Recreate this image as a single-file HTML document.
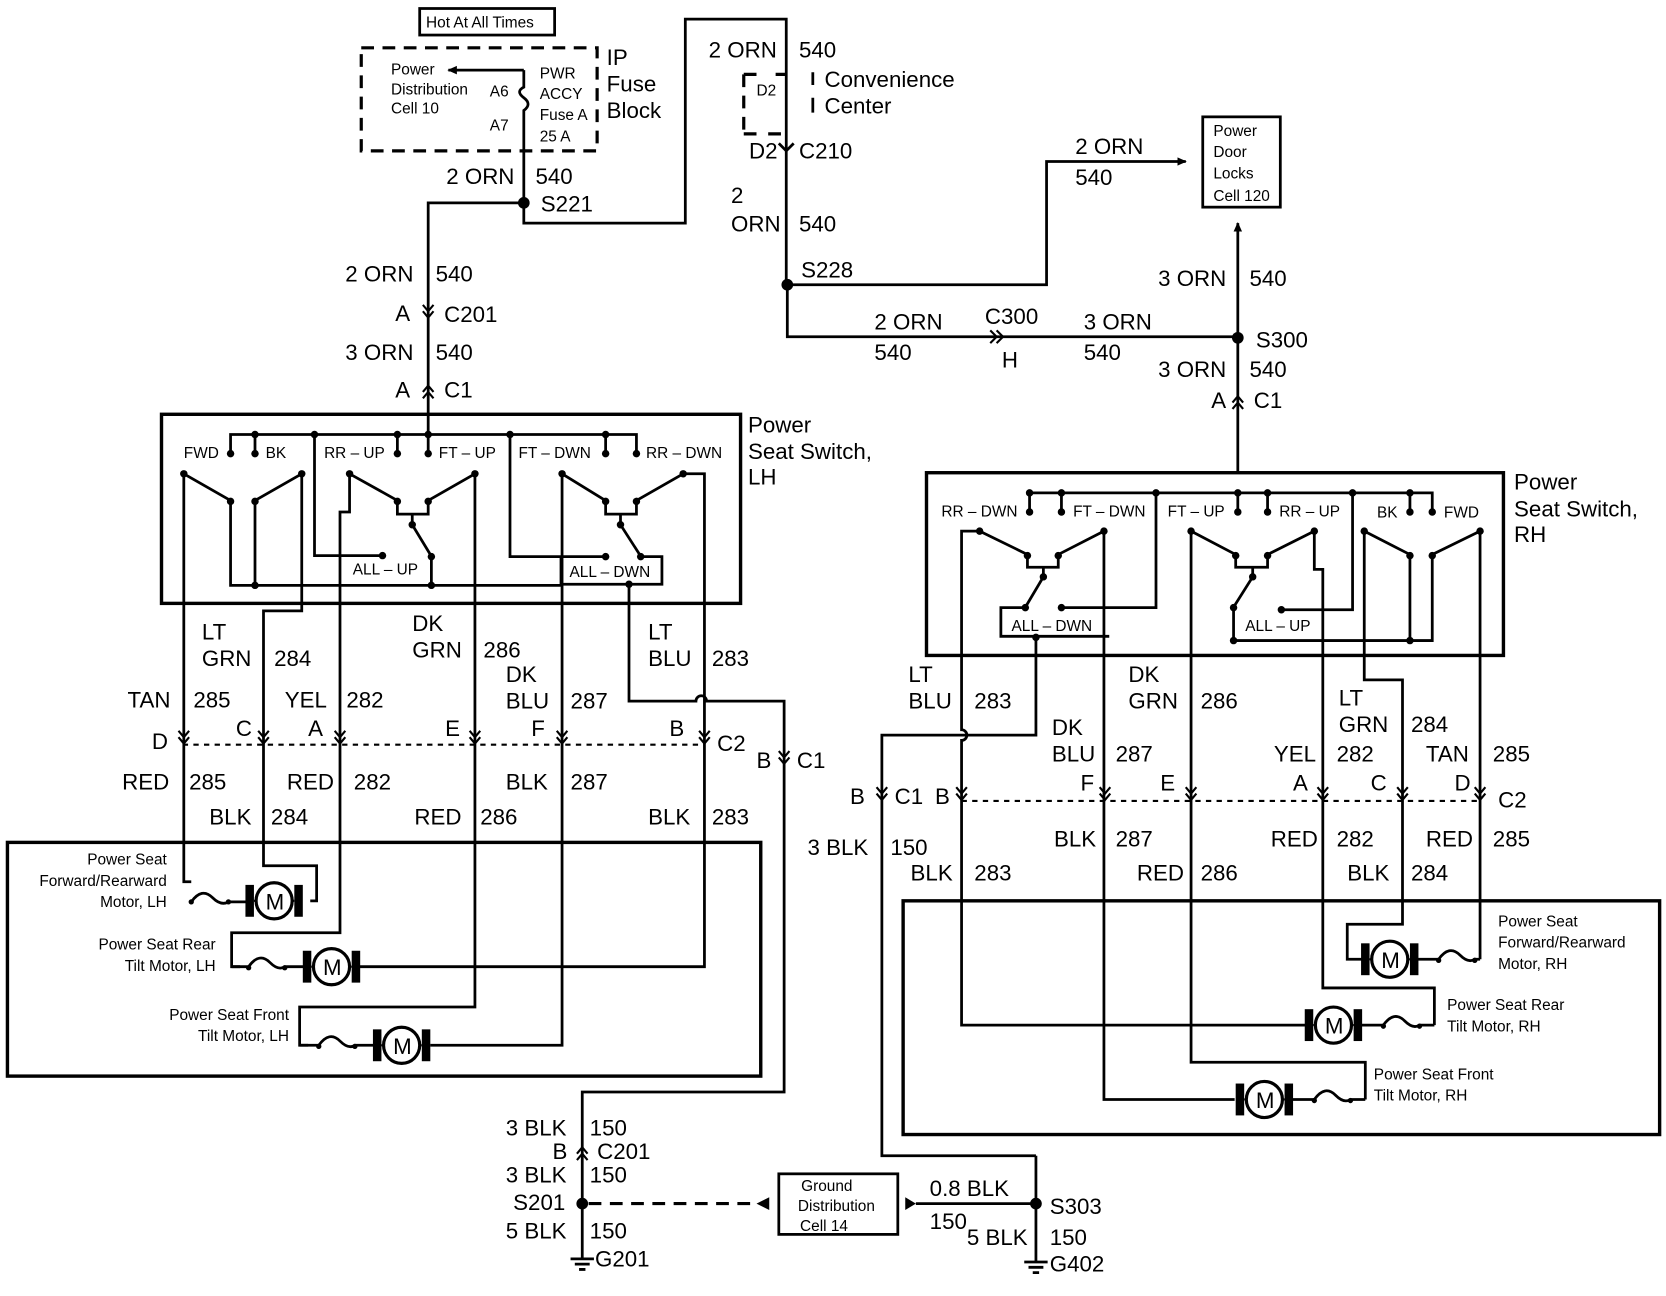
<!DOCTYPE html>
<html><head><meta charset="utf-8"><style>
html,body{margin:0;padding:0;background:#fff;}
svg{display:block;}
text{font-family:"Liberation Sans",Arial,sans-serif;fill:#000;}
.b{font-size:21px;}
.s{font-size:14.5px;}
.w{fill:none;stroke:#000;stroke-width:2.6;}
.bx{fill:none;stroke:#000;stroke-width:3.2;}
.d{fill:none;stroke:#000;stroke-width:2;stroke-dasharray:5 5;}
.ds{fill:none;stroke:#000;stroke-width:3;stroke-dasharray:12 8;}
</style></head><body>
<svg width="1666" height="1296" viewBox="0 0 1568 1220" preserveAspectRatio="none" xmlns="http://www.w3.org/2000/svg">
<defs>
<g id="mot"><rect x="-27" y="-15" width="8" height="30"/><rect x="19" y="-15" width="8" height="30"/><line x1="-19" y1="0" x2="19" y2="0" stroke="#000" stroke-width="2"/><circle r="17" fill="#fff" stroke="#000" stroke-width="3"/></g>
<g id="cd"><path d="M-5 -9 L0 -3 L5 -9 M-5 -3 L0 3 L5 -3" fill="none" stroke="#000" stroke-width="2"/></g>
<g id="cu"><path d="M-5 9 L0 3 L5 9 M-5 3 L0 -3 L5 3" fill="none" stroke="#000" stroke-width="2"/></g>
<marker id="ar" markerWidth="10" markerHeight="10" refX="8" refY="5" orient="auto" markerUnits="userSpaceOnUse"><path d="M0 1 L9 5 L0 9z"/></marker>
</defs>

<rect x="395" y="8" width="127" height="25" class="w" stroke-width="2"/>
<text x="401" y="26" class="s">Hot At All Times</text>
<rect x="340" y="45" width="222" height="97" class="ds"/>
<text x="368" y="70" class="s">Power</text><text x="368" y="89" class="s">Distribution</text><text x="368" y="107" class="s">Cell 10</text>
<text x="461" y="91" class="s">A6</text><text x="461" y="123" class="s">A7</text>
<line x1="493" y1="66" x2="422" y2="66" class="w" marker-end="url(#ar)"/>
<path d="M493 66 V82 q-8 4 0 10 q8 6 0 12 V190" class="w"/>
<text x="508" y="74" class="s">PWR</text><text x="508" y="93" class="s">ACCY</text><text x="508" y="113" class="s">Fuse A</text><text x="508" y="133" class="s">25 A</text>
<text x="571" y="61" class="b">IP</text><text x="571" y="86" class="b">Fuse</text><text x="571" y="111" class="b">Block</text>
<text x="420" y="173" class="b">2 ORN</text><text x="504" y="173" class="b">540</text>
<circle cx="493" cy="191" r="5.5"/><text x="509" y="199" class="b">S221</text>
<path d="M493 191 V210 H645 V18 H740 V268" class="w"/>
<path d="M493 191 H403 V408" class="w"/>
<text x="325" y="265" class="b">2 ORN</text><text x="410" y="265" class="b">540</text>
<text x="372" y="302" class="b">A</text><use href="#cd" x="403" y="296"/><text x="418" y="303" class="b">C201</text>
<text x="325" y="339" class="b">3 ORN</text><text x="410" y="339" class="b">540</text>
<text x="372" y="374" class="b">A</text><use href="#cu" x="403" y="366"/><text x="418" y="374" class="b">C1</text>

<path d="M700 70 H718 M730 70 H740 M700 70 V126 M700 126 H712 M723 126 H740" class="ds" stroke-width="2.6"/>
<path d="M765 68 V80 M765 92 V106" class="w"/>
<text x="712" y="90" class="s">D2</text>
<text x="667" y="54" class="b">2 ORN</text><text x="752" y="54" class="b">540</text>
<text x="776" y="82" class="b">Convenience</text><text x="776" y="107" class="b">Center</text>
<path d="M733 135 L740 142 L747 135" class="w" stroke-width="2"/>
<text x="705" y="149" class="b">D2</text><text x="752" y="149" class="b">C210</text>
<text x="688" y="191" class="b">2</text><text x="688" y="218" class="b">ORN</text><text x="752" y="218" class="b">540</text>
<circle cx="741" cy="268" r="5.5"/><text x="754" y="261" class="b">S228</text>
<path d="M741 268 H985 V152 H1116" class="w" marker-end="url(#ar)"/>
<text x="1012" y="145" class="b">2 ORN</text><text x="1012" y="174" class="b">540</text>
<rect x="1132" y="110" width="73" height="85" class="w"/>
<text x="1142" y="128" class="s">Power</text><text x="1142" y="148" class="s">Door</text><text x="1142" y="168" class="s">Locks</text><text x="1142" y="189" class="s">Cell 120</text>
<path d="M741 268 V317 H1165" class="w"/>
<text x="823" y="310" class="b">2 ORN</text><text x="823" y="339" class="b">540</text>
<text x="927" y="305" class="b">C300</text>
<path d="M932 311 L938 317 L932 323 M938 311 L944 317 L938 323" fill="none" stroke="#000" stroke-width="2"/>
<text x="943" y="346" class="b">H</text>
<text x="1020" y="310" class="b">3 ORN</text><text x="1020" y="339" class="b">540</text>
<circle cx="1165" cy="318" r="5.5"/><text x="1182" y="327" class="b">S300</text>
<path d="M1165 445 V210" class="w" marker-end="url(#ar)"/>
<text x="1090" y="269" class="b">3 ORN</text><text x="1176" y="269" class="b">540</text>
<text x="1090" y="355" class="b">3 ORN</text><text x="1176" y="355" class="b">540</text>
<text x="1140" y="384" class="b">A</text><use href="#cu" x="1165" y="376"/><text x="1180" y="384" class="b">C1</text>

<rect x="152" y="390" width="545" height="178" class="bx"/>
<text x="704" y="407" class="b">Power</text><text x="704" y="432" class="b">Seat Switch,</text><text x="704" y="456" class="b">LH</text>
<path d="M217 427 V409 H599 V427" class="w"/>
<path d="M240 409 V427 M374 409 V427 M403 409 V427 M570 409 V427" class="w"/>
<g>
<circle cx="240" cy="409" r="3.5"/><circle cx="296" cy="409" r="3.5"/><circle cx="374" cy="409" r="3.5"/><circle cx="403" cy="409" r="3.5"/><circle cx="480" cy="409" r="3.5"/><circle cx="570" cy="409" r="3.5"/>
<circle cx="217" cy="427" r="3.5"/><circle cx="240" cy="427" r="3.5"/><circle cx="374" cy="427" r="3.5"/><circle cx="403" cy="427" r="3.5"/><circle cx="570" cy="427" r="3.5"/><circle cx="599" cy="427" r="3.5"/>
</g>
<text x="173" y="431" class="s">FWD</text><text x="250" y="431" class="s">BK</text>
<text x="305" y="431" class="s">RR – UP</text><text x="413" y="431" class="s">FT – UP</text>
<text x="488" y="431" class="s">FT – DWN</text><text x="608" y="431" class="s">RR – DWN</text>
<g class="w">
<path d="M173 446 L215 470"/><path d="M284 446 L242 470"/>
<path d="M217 472 V551 H528"/><path d="M240 472 V551"/>
<path d="M173 446 V830 H180"/>
<path d="M284 446 V575 H248 V815 H298 V848 H292"/>
</g>
<circle cx="173" cy="446" r="3.5"/><circle cx="284" cy="446" r="3.5"/><circle cx="217" cy="472" r="3.5"/><circle cx="240" cy="472" r="3.5"/><circle cx="240" cy="551" r="3.5"/>
<g class="w">
<path d="M329 446 V482 H320 V878 H218 V910 H226"/>
<path d="M329 446 L372 470"/><path d="M447 446 L405 470"/>
<path d="M374 472 V484 H403 V472"/><path d="M388 484 V494 L405 522"/>
<path d="M406 524 V551"/>
<path d="M296 409 V523 H360"/>
<path d="M447 446 V948 H282 V984 H290"/>
</g>
<circle cx="329" cy="446" r="3.5"/><circle cx="447" cy="446" r="3.5"/><circle cx="374" cy="472" r="3.5"/><circle cx="403" cy="472" r="3.5"/><circle cx="388" cy="494" r="3.5"/><circle cx="406" cy="524" r="3.5"/><circle cx="406" cy="551" r="3.5"/><circle cx="360" cy="523" r="3.5"/>
<text x="332" y="541" class="s">ALL – UP</text>
<g class="w">
<path d="M529 446 L568 470"/><path d="M643 446 L601 470"/>
<path d="M570 472 V484 H599 V472"/><path d="M584 484 V494 L602 522"/>
<path d="M643 446 H663 V910 H338"/>
<path d="M480 409 V524 H570"/>
<path d="M603 524 H623 V550 H528 V524"/>
<path d="M529 446 V984 H405"/>
<path d="M592 550 V660 H655 a5 5 0 0 1 10 0 H738 V1028 H548 V1185"/>
</g>
<circle cx="529" cy="446" r="3.5"/><circle cx="643" cy="446" r="3.5"/><circle cx="570" cy="472" r="3.5"/><circle cx="599" cy="472" r="3.5"/><circle cx="584" cy="494" r="3.5"/><circle cx="603" cy="524" r="3.5"/><circle cx="570" cy="524" r="3.5"/><circle cx="592" cy="550" r="3.5"/>
<text x="536" y="543" class="s">ALL – DWN</text>

<text x="190" y="602" class="b">LT</text><text x="190" y="627" class="b">GRN</text><text x="258" y="627" class="b">284</text>
<text x="120" y="666" class="b">TAN</text><text x="182" y="666" class="b">285</text>
<text x="268" y="666" class="b">YEL</text><text x="326" y="666" class="b">282</text>
<text x="388" y="594" class="b">DK</text><text x="388" y="619" class="b">GRN</text><text x="455" y="619" class="b">286</text>
<text x="476" y="642" class="b">DK</text><text x="476" y="667" class="b">BLU</text><text x="537" y="667" class="b">287</text>
<text x="610" y="602" class="b">LT</text><text x="610" y="627" class="b">BLU</text><text x="670" y="627" class="b">283</text>
<line x1="172" y1="701" x2="663" y2="701" class="d"/>
<use href="#cd" x="173" y="697"/><use href="#cd" x="248" y="697"/><use href="#cd" x="320" y="697"/><use href="#cd" x="447" y="697"/><use href="#cd" x="529" y="697"/><use href="#cd" x="663" y="697"/>
<text x="143" y="705" class="b">D</text><text x="222" y="693" class="b">C</text><text x="290" y="693" class="b">A</text><text x="419" y="693" class="b">E</text><text x="500" y="693" class="b">F</text><text x="630" y="693" class="b">B</text><text x="675" y="707" class="b">C2</text>
<text x="712" y="723" class="b">B</text><use href="#cd" x="738" y="716"/><text x="750" y="723" class="b">C1</text>
<text x="115" y="743" class="b">RED</text><text x="178" y="743" class="b">285</text>
<text x="270" y="743" class="b">RED</text><text x="333" y="743" class="b">282</text>
<text x="476" y="743" class="b">BLK</text><text x="537" y="743" class="b">287</text>
<text x="197" y="776" class="b">BLK</text><text x="255" y="776" class="b">284</text>
<text x="390" y="776" class="b">RED</text><text x="452" y="776" class="b">286</text>
<text x="610" y="776" class="b">BLK</text><text x="670" y="776" class="b">283</text>

<rect x="7" y="793" width="709" height="220" class="bx"/>
<circle cx="180" cy="849" r="2.5"/><circle cx="215" cy="849" r="2.5"/>
<path d="M180 849 q10 -14 20 -4 q8 8 15 4" class="w"/>
<path d="M215 849 H232" class="w"/>
<use href="#mot" x="258" y="848"/><text x="250" y="856" class="b">M</text>
<text x="157" y="814" class="s" text-anchor="end">Power Seat</text><text x="157" y="834" class="s" text-anchor="end">Forward/Rearward</text><text x="157" y="854" class="s" text-anchor="end">Motor, LH</text>

<circle cx="234" cy="911" r="2.5"/><circle cx="268" cy="911" r="2.5"/>
<path d="M218 910 H234 q10 -14 20 -4 q8 8 14 4 H286" class="w"/>
<use href="#mot" x="312" y="910"/><text x="304" y="918" class="b">M</text>
<text x="203" y="894" class="s" text-anchor="end">Power Seat Rear</text><text x="203" y="914" class="s" text-anchor="end">Tilt Motor, LH</text>

<circle cx="300" cy="985" r="2.5"/><circle cx="334" cy="985" r="2.5"/>
<path d="M282 984 H300 q10 -14 20 -4 q8 8 14 4 H352" class="w"/>
<use href="#mot" x="378" y="984"/><text x="370" y="992" class="b">M</text>
<text x="272" y="960" class="s" text-anchor="end">Power Seat Front</text><text x="272" y="980" class="s" text-anchor="end">Tilt Motor, LH</text>

<text x="476" y="1069" class="b">3 BLK</text><text x="555" y="1069" class="b">150</text>
<text x="520" y="1091" class="b">B</text><use href="#cu" x="548" y="1083"/><text x="562" y="1091" class="b">C201</text>
<text x="476" y="1113" class="b">3 BLK</text><text x="555" y="1113" class="b">150</text>
<circle cx="548" cy="1133" r="5.5"/><text x="483" y="1139" class="b">S201</text>
<text x="476" y="1166" class="b">5 BLK</text><text x="555" y="1166" class="b">150</text>
<path d="M537 1185 H559 M541 1190 H555 M545 1195 H551" class="w"/>
<text x="560" y="1192" class="b">G201</text>
<line x1="554" y1="1133" x2="712" y2="1133" class="ds" stroke-width="2.6"/>
<path d="M724 1127 L712 1133 L724 1139z"/>
<rect x="733" y="1105" width="112" height="57" class="w"/>
<text x="754" y="1121" class="s">Ground</text><text x="751" y="1140" class="s">Distribution</text><text x="753" y="1159" class="s">Cell 14</text>
<path d="M852 1127 L862 1133 L852 1139z"/>
<path d="M862 1133 H975" class="w"/>
<circle cx="975" cy="1133" r="5.5"/><text x="988" y="1143" class="b">S303</text>
<text x="875" y="1126" class="b">0.8 BLK</text><text x="875" y="1157" class="b">150</text>
<text x="910" y="1172" class="b">5 BLK</text><text x="988" y="1172" class="b">150</text>
<path d="M975 1088 V1188" class="w"/>
<path d="M964 1188 H986 M968 1193 H982 M972 1198 H978" class="w"/>
<text x="988" y="1197" class="b">G402</text>

<rect x="872" y="445" width="543" height="172" class="bx"/>
<text x="1425" y="461" class="b">Power</text><text x="1425" y="486" class="b">Seat Switch,</text><text x="1425" y="510" class="b">RH</text>
<path d="M969 482 V464 H1348 V482" class="w"/>
<path d="M999 464 V482 M1165 464 V482 M1193 464 V482 M1327 464 V482" class="w"/>
<circle cx="969" cy="464" r="3.5"/><circle cx="999" cy="464" r="3.5"/><circle cx="1088" cy="464" r="3.5"/><circle cx="1165" cy="464" r="3.5"/><circle cx="1193" cy="464" r="3.5"/><circle cx="1273" cy="464" r="3.5"/><circle cx="1327" cy="464" r="3.5"/>
<circle cx="969" cy="482" r="3.5"/><circle cx="999" cy="482" r="3.5"/><circle cx="1165" cy="482" r="3.5"/><circle cx="1193" cy="482" r="3.5"/><circle cx="1327" cy="482" r="3.5"/><circle cx="1348" cy="482" r="3.5"/>
<text x="886" y="486" class="s">RR – DWN</text><text x="1010" y="486" class="s">FT – DWN</text>
<text x="1099" y="486" class="s">FT – UP</text><text x="1204" y="486" class="s">RR – UP</text>
<text x="1296" y="487" class="s">BK</text><text x="1359" y="487" class="s">FWD</text>
<g class="w">
<path d="M922 500 L965 521"/><path d="M1039 500 L998 521"/>
<path d="M967 523 V534 H996 V523"/><path d="M982 534 V543 L966 570"/>
<path d="M965 572 H942 V599 H1044"/>
<path d="M1088 464 V572 H999"/>
<path d="M922 500 H905 V687 a5 5 0 0 1 0 10 V965 H1229"/>
<path d="M1039 500 V1035 H1162"/>
<path d="M975 600 V692 H830 V1088 H975"/>
<path d="M1121 500 L1161 521"/><path d="M1237 500 L1195 521"/>
<path d="M1163 523 V534 H1193 V523"/><path d="M1179 534 V543 L1162 570"/>
<path d="M1161 572 V603 H1348 V523"/>
<path d="M1327 523 V603"/>
<path d="M1273 464 V574 H1206"/>
<path d="M1121 500 V1000 H1285 V1035"/>
<path d="M1237 500 V536 H1245 V930 H1350 V965"/>
<path d="M1284 500 L1325 521"/><path d="M1393 500 L1350 521"/>
<path d="M1284 500 V640 H1320 V870 H1268 V903 H1282"/>
<path d="M1393 500 V903"/>
</g>
<circle cx="922" cy="500" r="3.5"/><circle cx="1039" cy="500" r="3.5"/><circle cx="967" cy="523" r="3.5"/><circle cx="996" cy="523" r="3.5"/><circle cx="982" cy="543" r="3.5"/><circle cx="965" cy="572" r="3.5"/><circle cx="999" cy="572" r="3.5"/><circle cx="975" cy="600" r="3.5"/>
<circle cx="1121" cy="500" r="3.5"/><circle cx="1237" cy="500" r="3.5"/><circle cx="1163" cy="523" r="3.5"/><circle cx="1193" cy="523" r="3.5"/><circle cx="1179" cy="543" r="3.5"/><circle cx="1161" cy="572" r="3.5"/><circle cx="1206" cy="574" r="3.5"/><circle cx="1161" cy="603" r="3.5"/>
<circle cx="1284" cy="500" r="3.5"/><circle cx="1393" cy="500" r="3.5"/><circle cx="1327" cy="523" r="3.5"/><circle cx="1348" cy="523" r="3.5"/><circle cx="1327" cy="603" r="3.5"/>
<text x="952" y="594" class="s">ALL – DWN</text><text x="1172" y="594" class="s">ALL – UP</text>

<text x="855" y="642" class="b">LT</text><text x="855" y="667" class="b">BLU</text><text x="917" y="667" class="b">283</text>
<text x="1062" y="642" class="b">DK</text><text x="1062" y="667" class="b">GRN</text><text x="1130" y="667" class="b">286</text>
<text x="990" y="692" class="b">DK</text><text x="990" y="717" class="b">BLU</text><text x="1050" y="717" class="b">287</text>
<text x="1260" y="664" class="b">LT</text><text x="1260" y="689" class="b">GRN</text><text x="1328" y="689" class="b">284</text>
<text x="1199" y="717" class="b">YEL</text><text x="1258" y="717" class="b">282</text>
<text x="1342" y="717" class="b">TAN</text><text x="1405" y="717" class="b">285</text>
<line x1="905" y1="754" x2="1395" y2="754" class="d"/>
<use href="#cd" x="905" y="750"/><use href="#cd" x="1040" y="750"/><use href="#cd" x="1121" y="750"/><use href="#cd" x="1245" y="750"/><use href="#cd" x="1320" y="750"/><use href="#cd" x="1393" y="750"/>
<text x="800" y="757" class="b">B</text><use href="#cd" x="830" y="750"/><text x="842" y="757" class="b">C1</text>
<text x="880" y="757" class="b">B</text><text x="1017" y="744" class="b">F</text><text x="1092" y="744" class="b">E</text><text x="1217" y="744" class="b">A</text><text x="1290" y="744" class="b">C</text><text x="1369" y="744" class="b">D</text><text x="1410" y="760" class="b">C2</text>
<text x="760" y="805" class="b">3 BLK</text><text x="838" y="805" class="b">150</text>
<text x="992" y="797" class="b">BLK</text><text x="1050" y="797" class="b">287</text>
<text x="1196" y="797" class="b">RED</text><text x="1258" y="797" class="b">282</text>
<text x="1342" y="797" class="b">RED</text><text x="1405" y="797" class="b">285</text>
<text x="857" y="829" class="b">BLK</text><text x="917" y="829" class="b">283</text>
<text x="1070" y="829" class="b">RED</text><text x="1130" y="829" class="b">286</text>
<text x="1268" y="829" class="b">BLK</text><text x="1328" y="829" class="b">284</text>

<rect x="850" y="848" width="712" height="220" class="bx"/>
<use href="#mot" x="1308" y="903"/><text x="1300" y="911" class="b">M</text>
<circle cx="1354" cy="904" r="2.5"/><circle cx="1388" cy="904" r="2.5"/>
<path d="M1334 903 H1354 q10 -14 20 -4 q8 8 14 4 H1393" class="w"/>
<text x="1410" y="872" class="s">Power Seat</text><text x="1410" y="892" class="s">Forward/Rearward</text><text x="1410" y="912" class="s">Motor, RH</text>

<use href="#mot" x="1255" y="965"/><text x="1247" y="973" class="b">M</text>
<circle cx="1302" cy="966" r="2.5"/><circle cx="1336" cy="966" r="2.5"/>
<path d="M1281 965 H1302 q10 -14 20 -4 q8 8 14 4 H1350" class="w"/>
<text x="1362" y="951" class="s">Power Seat Rear</text><text x="1362" y="971" class="s">Tilt Motor, RH</text>

<use href="#mot" x="1190" y="1035"/><text x="1182" y="1043" class="b">M</text>
<circle cx="1237" cy="1036" r="2.5"/><circle cx="1271" cy="1036" r="2.5"/>
<path d="M1216 1035 H1237 q10 -14 20 -4 q8 8 14 4 H1285" class="w"/>
<text x="1293" y="1016" class="s">Power Seat Front</text><text x="1293" y="1036" class="s">Tilt Motor, RH</text>
</svg>
</body></html>
